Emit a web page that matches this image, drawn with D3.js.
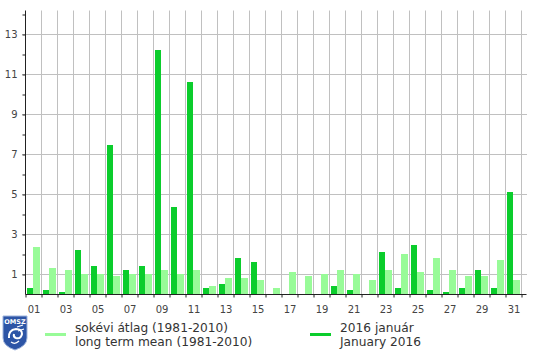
<!DOCTYPE html>
<html>
<head>
<meta charset="utf-8">
<title>Csapadék 2016 január</title>
<script src="https://d3js.org/d3.v7.min.js"></script>
<style>
  body { margin: 0; background: #fff; }
  text { font-family: "DejaVu Sans", Verdana, sans-serif; }
  .grid line { stroke: #c0c0c0; stroke-width: 1; }
  .axis path, .axis line { stroke: #222; }
  .axis text { fill: #444; font-size: 10px; }
</style>
</head>
<body>
<svg id="chart" width="536" height="354"></svg>
<script>
// days of the month
const days = d3.range(1, 32)
// 2016 január / January 2016 (mm)
const jan2016 = [0.3, 0.2, 0.1, 2.2, 1.4, 7.45, 1.2, 1.4, 12.2, 4.35,
                 10.6, 0.3, 0.5, 1.8, 1.6, 0, 0, 0, 0, 0.4,
                 0.2, 0, 2.1, 0.3, 2.45, 0.2, 0.1, 0.3, 1.2, 0.3, 5.1]
// sokévi átlag / long term mean (1981-2010)
const longMean = [2.35, 1.3, 1.2, 1.0, 1.0, 0.9, 1.0, 1.0, 1.2, 1.0,
                  1.2, 0.4, 0.8, 0.8, 0.7, 0.3, 1.1, 0.9, 1.0, 1.2,
                  1.0, 0.7, 1.2, 2.0, 1.1, 1.8, 1.2, 0.9, 0.9, 1.7, 0.7]
const yMajor = [1, 3, 5, 7, 9, 11, 13]
const yMinor = [2, 4, 6, 8, 10, 12, 14]
const xLabels = days.filter(d => d % 2 === 1)

const darkGreen = "#0bcd2c",
      lightGreen = "#98fb98"

var svg = d3.select("#chart")

var x = d3.scaleLinear()
          .domain([0.5, 31.8125])
          .range([25.5, 526.5])

var y = d3.scaleLinear()
          .domain([0, 14.2])
          .range([294.5, 10.5])

var sub = d3.scaleBand()
            .domain(["jan", "mean"])
            .range([1.5, 14.5])

// horizontal grid at odd values
svg.append("g")
   .attr("class", "grid")
   .selectAll("line")
   .data(yMajor)
   .join("line")
   .attr("x1", 22)
   .attr("x2", 527)
   .attr("y1", d => y(d))
   .attr("y2", d => y(d))

// vertical grid at day boundaries
svg.append("g")
   .attr("class", "grid")
   .selectAll("line")
   .data(days.map(d => d + 0.5))
   .join("line")
   .attr("x1", d => x(d))
   .attr("x2", d => x(d))
   .attr("y1", y(14.2))
   .attr("y2", y(0))

// bars
var bars = svg.append("g").attr("shape-rendering", "crispEdges")

bars.selectAll("rect.jan")
    .data(days)
    .join("rect")
    .attr("class", "jan")
    .attr("x", d => x(d - 0.5) - 0.5 + sub("jan"))
    .attr("width", sub.bandwidth())
    .attr("y", (d, i) => y(jan2016[i]) - 0.5)
    .attr("height", (d, i) => y(0) - y(jan2016[i]))
    .attr("fill", darkGreen)

bars.selectAll("rect.mean")
    .data(days)
    .join("rect")
    .attr("class", "mean")
    .attr("x", d => x(d - 0.5) - 0.5 + sub("mean"))
    .attr("width", sub.bandwidth())
    .attr("y", (d, i) => y(longMean[i]) - 0.5)
    .attr("height", (d, i) => y(0) - y(longMean[i]))
    .attr("fill", lightGreen)

// y axis: labelled odd ticks, short even ticks
var yAxis = svg.append("g")
               .attr("class", "axis")
               .attr("transform", "translate(" + x(0.5) + ",0)")
               .call(d3.axisLeft(y).tickValues(yMajor).tickSize(3).tickPadding(5))
yAxis.select(".domain").attr("d", "M0," + y(14.2) + "V" + y(0))
yAxis.selectAll(".tick line").attr("stroke", "#c0c0c0")

svg.append("g")
   .attr("class", "axis")
   .attr("transform", "translate(" + x(0.5) + ",0)")
   .call(d3.axisLeft(y).tickValues(yMinor).tickSize(3).tickFormat(""))
   .select(".domain").remove()

// x axis: ticks on day boundaries, labels on odd days
var xAxis = svg.append("g")
               .attr("class", "axis")
               .attr("transform", "translate(0," + y(0) + ")")
               .call(d3.axisBottom(x).tickValues(days.map(d => d - 0.5).concat([31.5])).tickSize(3).tickFormat(""))
xAxis.select(".domain").attr("d", "M" + x(0.5) + ",0H" + x(31.8125))

svg.append("g")
   .attr("class", "axis")
   .attr("transform", "translate(0," + y(0) + ")")
   .call(d3.axisBottom(x).tickValues(xLabels).tickSize(0).tickPadding(11)
           .tickFormat(d => d3.format("02d")(d)))
   .call(g => g.select(".domain").remove())

// legend
var legend = svg.append("g").attr("font-size", 12.2).attr("fill", "#333")

var items = [
  {color: lightGreen, x: 45, lines: ["sokévi átlag (1981-2010)", "long term mean (1981-2010)"]},
  {color: darkGreen, x: 310, lines: ["2016 január", "January 2016"]}
]

items.forEach(it => {
  legend.append("rect")
        .attr("x", it.x)
        .attr("y", 333)
        .attr("width", 21)
        .attr("height", 3)
        .attr("fill", it.color)
  legend.append("text")
        .attr("x", it.x + 30)
        .attr("y", 332)
        .selectAll("tspan")
        .data(it.lines)
        .join("tspan")
        .attr("x", it.x + 30)
        .attr("dy", (d, i) => i ? 14 : 0)
        .text(d => d)
})

// OMSZ logo (rough)
var logo = svg.append("g").attr("transform", "translate(3,316)")
logo.append("path")
    .attr("d", "M0,0H24V22Q24,30 12,34Q0,30 0,22Z")
    .attr("fill", "#2d55a6")
    .attr("stroke", "#9fb4dc")
    .attr("stroke-width", 1)
logo.append("text")
    .attr("x", 12)
    .attr("y", 8)
    .attr("text-anchor", "middle")
    .attr("font-size", 6.5)
    .attr("font-weight", "bold")
    .attr("fill", "#fff")
    .text("OMSZ")
logo.append("path")
    .attr("d", "M6,22Q5,14 13,13Q19,13 19,18Q18,23 13,22Q10,21 11,18")
    .attr("fill", "none")
    .attr("stroke", "#fff")
    .attr("stroke-width", 2)
logo.append("path")
    .attr("d", "M14,11L20,9M15,15L21,13M16,25Q12,29 8,26")
    .attr("fill", "none")
    .attr("stroke", "#fff")
    .attr("stroke-width", 1.2)
</script>
</body>
</html>
